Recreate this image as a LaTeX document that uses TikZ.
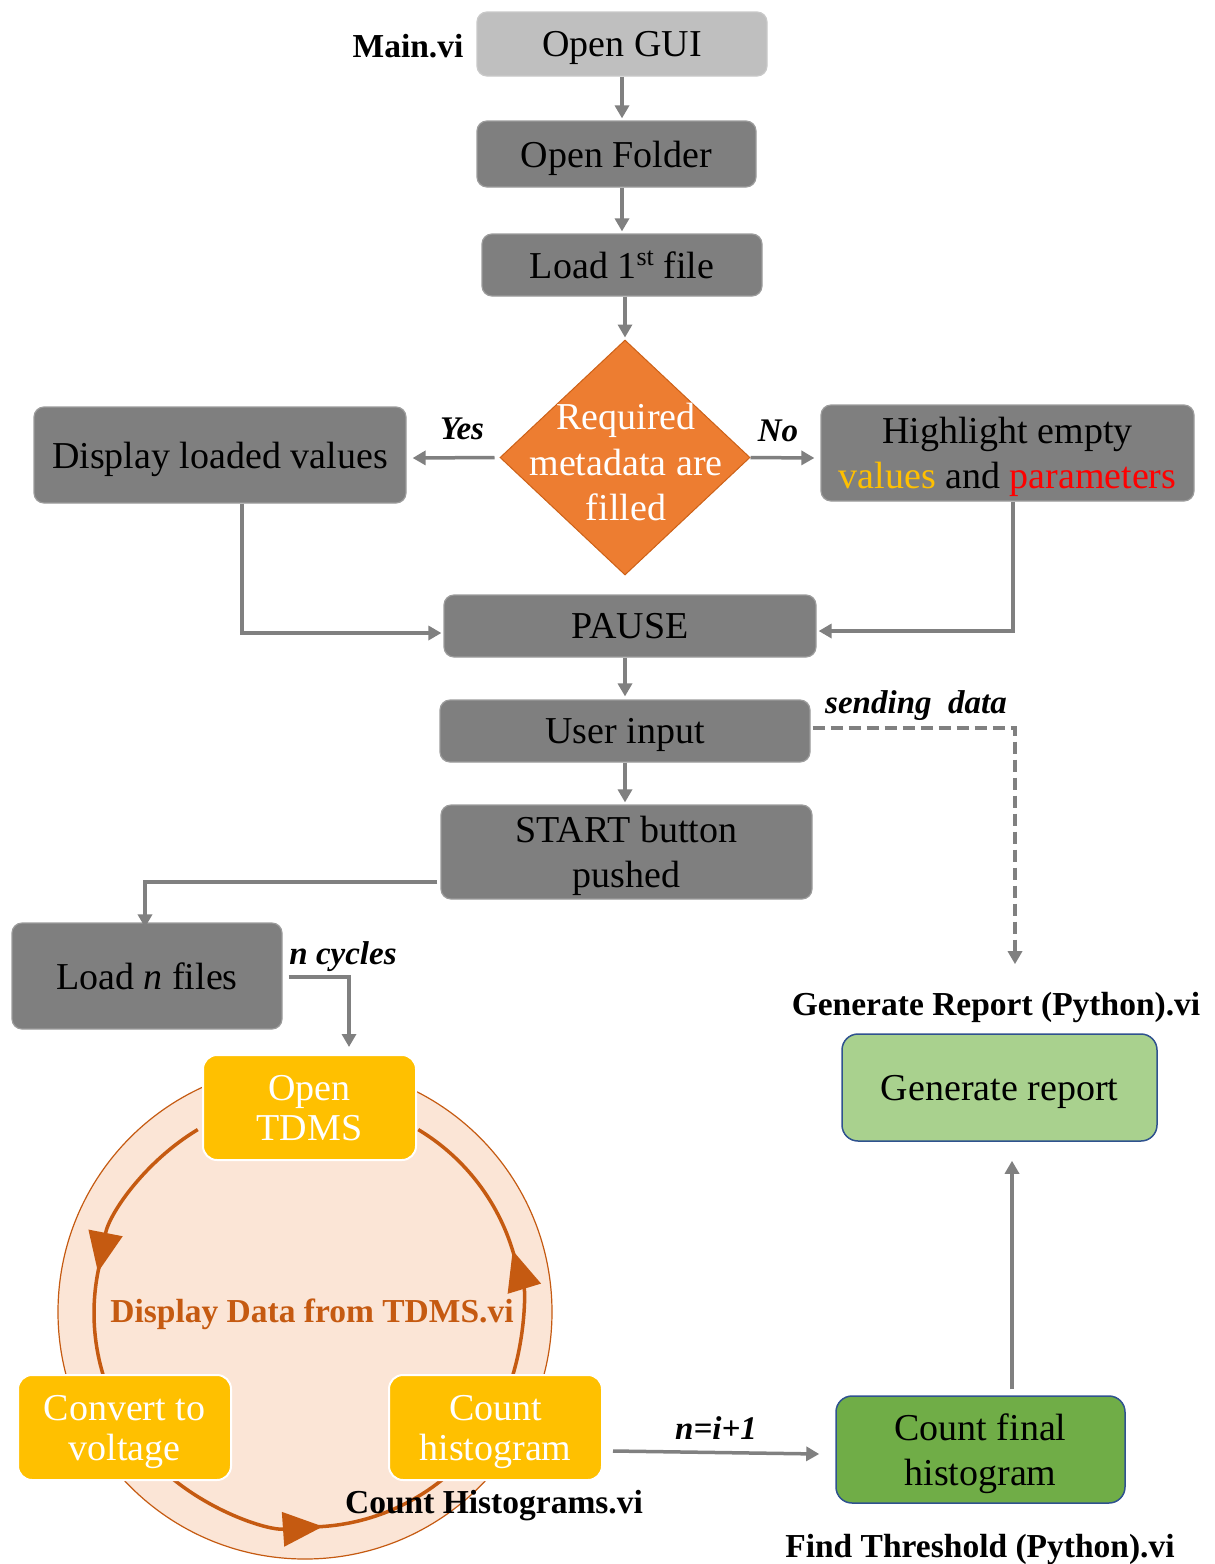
\documentclass[tikz,border=0pt]{standalone}
\usepackage{fontspec}
\setmainfont{Liberation Serif}
\usetikzlibrary{arrows.meta,shapes.geometric,calc}
\definecolor{gfill}{HTML}{7F7F7F}
\definecolor{gborder}{HTML}{9C9C9C}
\definecolor{lgfill}{HTML}{BFBFBF}
\definecolor{arrc}{HTML}{808080}
\definecolor{dorange}{HTML}{ED7D31}
\definecolor{rust}{HTML}{C55A11}
\definecolor{peach}{HTML}{FBE5D6}
\definecolor{ygold}{HTML}{FFC000}
\definecolor{dgreen}{HTML}{70AD47}
\definecolor{lgreen}{HTML}{A9D18E}
\definecolor{bborder}{HTML}{2F528F}
\definecolor{pred}{HTML}{FF0000}
\begin{document}
\begin{tikzpicture}[x=1pt,y=1pt,
  gbox/.style={draw=gborder, fill=gfill, rounded corners=10pt, line width=1.2pt, inner sep=0pt, align=center, text=black, text depth=0pt, font=\fontsize{38}{45}\selectfont},
  ybox/.style={draw=white, fill=ygold, rounded corners=14pt, line width=2pt, inner sep=0pt, align=center, text=white, text depth=0pt, font=\fontsize{38}{40}\selectfont, minimum width=213pt, minimum height=105pt},
  greenbox/.style={draw=bborder, line width=1.5pt, rounded corners=16pt, inner sep=0pt, align=center, text=black, text depth=0pt, font=\fontsize{38}{45}\selectfont},
  lab/.style={font=\fontsize{33.5}{38}\selectfont\bfseries, text=black, inner sep=0pt, text depth=0pt},
  ilab/.style={font=\fontsize{33}{38}\selectfont\bfseries\itshape, text=black, inner sep=0pt, text depth=0pt},
  arr/.style={draw=arrc, line width=3.5pt, -{Triangle[length=13pt,width=14pt]}},
  cyc/.style={draw=rust, line width=3.5pt},
  cyca/.style={draw=rust, line width=3.5pt, -{Triangle[length=40pt,width=34pt]}},
]
\useasboundingbox (0,0) rectangle (1215,-1564);

% loop background circle
\coordinate (C) at (308,-1313);
\node (ring) [circle, draw=rust, fill=peach, line width=1.2pt, minimum size=494pt, inner sep=0pt] at (305,-1312) {};
% cycle arcs
\draw[cyca] ($(C)+(121:214)$) arc[start angle=121, end angle=169, radius=214];
\draw[cyc]  ($(C)+(167:214)$) arc[start angle=167, end angle=199, radius=214];
\draw[cyca] ($(C)+(230:214)$) arc[start angle=230, end angle=274, radius=214];
\draw[cyc]  ($(C)+(272:214)$) arc[start angle=272, end angle=312, radius=214];
\draw[cyca] ($(C)+(-18:214)$) arc[start angle=-18, end angle=17, radius=214];
\draw[cyc]  ($(C)+(15:214)$) arc[start angle=15, end angle=59, radius=214];

% boxes
\node (opengui) [gbox, fill=lgfill, draw=lgfill!85!white, minimum width=290pt, minimum height=64pt] at (622,-44) {Open GUI};
\node (openfolder) [gbox, minimum width=279pt, minimum height=66pt] at (616.5,-154) {Open Folder};
\node (load1) [gbox, minimum width=280pt, minimum height=62pt] at (622,-265) {Load 1\raisebox{13pt}{\fontsize{26}{26}\selectfont st} file};
\node (dia) [diamond, fill=dorange, draw=rust!80!dorange, line width=1pt, minimum width=250pt, minimum height=235pt, inner sep=0pt] at (625,-457.5) {};
\node (diatext) [align=center, text=white, inner sep=0pt, font=\fontsize{38}{45.5}\selectfont] at (626,-462) {Required\\metadata are\\filled};
\node (disp) [gbox, minimum width=372pt, minimum height=96pt] at (220,-455) {Display loaded values};
\node (high) [gbox, minimum width=373pt, minimum height=96pt] at (1007.5,-453) {Highlight empty\\\textcolor{ygold}{values} and \textcolor{pred}{parameters}};
\node (pause) [gbox, minimum width=372pt, minimum height=62pt] at (630,-626) {PAUSE};
\node (user) [gbox, minimum width=370pt, minimum height=62pt] at (625,-731) {User input};
\node (start) [gbox, minimum width=371pt, minimum height=94pt] at (626.5,-852) {START button\\pushed};
\node (loadn) [gbox, minimum width=270pt, minimum height=106pt] at (147,-976) {Load \textit{n} files};
\node (opentdms) [ybox] at (309.5,-1107.5) {Open\\TDMS};
\node (convert) [ybox] at (124.5,-1427.5) {Convert to\\voltage};
\node (counth) [ybox] at (495.5,-1427.5) {Count\\histogram};
\node (final) [greenbox, fill=dgreen, minimum width=289pt, minimum height=107pt] at (980.5,-1449.5) {Count final\\histogram};
\node (report) [greenbox, fill=lgreen, minimum width=315pt, minimum height=107pt] at (999.5,-1087.5) {Generate report};

% labels
\node (mainvi) [lab] at (408,-46) {Main.vi};
\node (yes) [ilab] at (462,-429) {Yes};
\node (no) [ilab] at (778,-431) {No};
\node (sending) [ilab] at (916,-702) {sending\ \ data};
\node (ncyc) [ilab] at (343,-953) {n cycles};
\node (genlab) [lab] at (996,-1004) {Generate Report (Python).vi};
\node (displab) [lab, text=rust] at (312,-1311) {Display Data from TDMS.vi};
\node (cntlab) [lab] at (494,-1502) {Count Histograms.vi};
\node (nilab) [ilab] at (716,-1428) {n=i+1};
\node (findlab) [lab] at (980,-1546) {Find Threshold (Python).vi};

% connectors
\draw[arr] (opengui.south -| 622,0) -- ($(openfolder.north -| 622,0)+(0,2)$);
\draw[arr] (openfolder.south -| 622,0) -- ($(load1.north -| 622,0)+(0,2)$);
\draw[arr] (load1.south -| 625,0) -- ($(dia.north)+(0,2)$);
\draw[arr] ($(dia.west)+(-5,0)$) -- ($(disp.east)+(6,-3)$);
\draw[arr] (dia.east) -- ($(high.west)+(-6,-5)$);
\draw[arr] (disp.south -| 242,0) |- ($(pause.west)+(-2,-7)$);
\draw[arr] (high.south -| 1013,0) |- ($(pause.east)+(2,-5)$);
\draw[arr] (pause.south -| 625,0) -- ($(user.north -| 625,0)+(0,3)$);
\draw[arr] (user.south -| 625,0) -- ($(start.north -| 625,0)+(0,2)$);
\coordinate (startw) at ($(start.west)+(-3,-30)$);
\draw[arr] (startw) -| ($(loadn.north -| 145,0)+(0,-5)$);
\coordinate (loadne) at ($(loadn.east)+(6,-1)$);
\draw[arr] (loadne) -| ($(opentdms.north -| 349,0)+(0,7)$);
\draw[arr] ($(counth.east)+(10,-23.5)$) -- ($(final.west)+(-16,-4.5)$);
\draw[arr] ($(final.north -| 1012,0)+(0,6)$) -- ($(report.south -| 1012,0)+(0,-19)$);
\draw[draw=arrc, line width=3.5pt, dash pattern=on 12pt off 6pt, -{Triangle[length=13pt,width=14pt]}] ($(user.east)+(2,3)$) -| ($(genlab.north -| 1015,0)+(0,28)$);
\end{tikzpicture}
\end{document}
